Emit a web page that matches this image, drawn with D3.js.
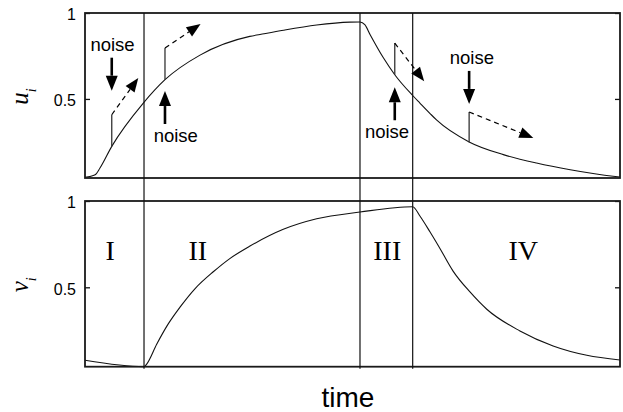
<!DOCTYPE html>
<html>
<head>
<meta charset="utf-8">
<script src="https://cdn.jsdelivr.net/npm/d3@7"></script>
<style>
  body { margin: 0; background: #fff; }
  svg { display: block; }
</style>
</head>
<body>
<svg></svg>
<script>
// time runs 0..100 (arbitrary units)
const uTime  = [0, 1.9, 2.8, 5.0, 10.9, 14.95, 21.5, 30.8, 32.7, 37.1, 43.3, 49.5, 51.4, 52.3, 53.3, 55.8, 57.9, 61.25, 62.6, 64.5, 65.7, 71.8, 78.2, 84.4, 90.7, 98.7, 100];
const uValue = [0.044, 0.059, 0.098, 0.224, 0.476, 0.612, 0.755, 0.864, 0.875, 0.900, 0.930, 0.947, 0.948, 0.932, 0.874, 0.738, 0.641, 0.520, 0.476, 0.415, 0.378, 0.250, 0.176, 0.127, 0.088, 0.050, 0.046];

const vTime  = [0, 11.03, 11.5, 13.4, 15.5, 17.76, 20.5, 23.98, 27.0, 30.84, 37.07, 43.3, 51.4, 61.25, 62.6, 64.5, 66.4, 68.8, 71.96, 75.1, 81.3, 87.5, 93.8, 100];
const vValue = [0.077, 0.040, 0.054, 0.170, 0.285, 0.385, 0.490, 0.590, 0.665, 0.739, 0.836, 0.897, 0.936, 0.967, 0.913, 0.820, 0.722, 0.594, 0.473, 0.373, 0.247, 0.160, 0.106, 0.079];

// region boundaries and labels
const boundaries = [11.03, 51.4, 61.25];
const regionNames = ["I", "II", "III", "IV"];
const regionLabelT = [4.7, 21.1, 56.5, 81.9];
const regionLabelV = 0.66;

// noise kicks on u_i
const noiseT      = [5.0, 14.95, 57.9, 71.8];
const noiseFrom   = [0.224, 0.612, 0.641, 0.248];
const noiseTo     = [0.408, 0.796, 0.825, 0.424];
const noiseEndT   = [9.96, 21.6, 63.4, 83.8];
const noiseEndU   = [0.622, 0.936, 0.603, 0.273];
const noiseTipU   = [0.548, 0.546, 0.568, 0.471];
const noiseSide   = ["above", "below", "below", "above"];
const noiseLabelT = [5.14, 16.97, 56.45, 72.3];

const yTicks = [0.5, 1];

const width = 623, height = 412;
const left = 85, right = 620;
const top1 = 13, bottom1 = 178;
const top2 = 201, bottom2 = 366.7;
const ink = "#111";

const svg = d3.select("svg")
  .attr("width", width)
  .attr("height", height)
  .attr("viewBox", [0, 0, width, height]);

const x = d3.scaleLinear().domain([0, 100]).range([left, right]);
const yU = d3.scaleLinear().domain([0.04, 1]).range([bottom1, top1]);
const yV = d3.scaleLinear().domain([0.04, 1]).range([bottom2, top2]);

function panel(y, top, bottom, times, values, name) {
  const g = svg.append("g");
  g.append("g")
    .attr("transform", `translate(${left},0)`)
    .call(d3.axisLeft(y).tickValues(yTicks).tickSize(-5).tickPadding(9).tickFormat(d3.format("")))
    .call(a => a.select(".domain").remove())
    .call(a => a.selectAll(".tick line").attr("stroke", ink).attr("stroke-width", 1.3))
    .call(a => a.selectAll(".tick text")
      .attr("fill", "#000")
      .attr("dy", "0.42em")
      .style("font-family", "'Liberation Sans', Arial, sans-serif")
      .style("font-size", "16px"));
  g.append("g")
    .attr("transform", `translate(${right},0)`)
    .call(d3.axisRight(y).tickValues(yTicks).tickSize(-5).tickFormat(""))
    .call(a => a.select(".domain").remove())
    .call(a => a.selectAll(".tick line").attr("stroke", ink).attr("stroke-width", 1.3));

  const line = d3.line()
    .x((d, i) => x(times[i]))
    .y(d => y(d))
    .curve(d3.curveMonotoneX);
  g.append("path")
    .attr("d", line(values))
    .attr("fill", "none")
    .attr("stroke", ink)
    .attr("stroke-width", 1.1);

  g.append("rect")
    .attr("x", left).attr("y", top)
    .attr("width", right - left).attr("height", bottom - top)
    .attr("fill", "none")
    .attr("stroke", "#1a1a1a")
    .attr("stroke-width", 1.8);

  // rotated y label with subscript
  const lab = g.append("text")
    .attr("transform", `translate(28,${(top + bottom) / 2 + 1}) rotate(-90)`)
    .attr("text-anchor", "middle")
    .style("font-family", "'Liberation Serif', 'Times New Roman', serif")
    .style("font-style", "italic")
    .attr("fill", "#000");
  lab.append("tspan").style("font-size", "25px").text(name);
  lab.append("tspan").style("font-size", "14px").attr("dy", 8).text("i");
}

panel(yU, top1, bottom1, uTime, uValue, "u");
panel(yV, top2, bottom2, vTime, vValue, "v");

// region boundaries across both panels
svg.append("g")
  .selectAll("line")
  .data(boundaries)
  .join("line")
  .attr("x1", d => x(d)).attr("x2", d => x(d))
  .attr("y1", top1).attr("y2", bottom2 + 2)
  .attr("stroke", ink)
  .attr("stroke-width", 1.2);

svg.append("g")
  .selectAll("text")
  .data(regionNames)
  .join("text")
  .attr("x", (d, i) => x(regionLabelT[i]))
  .attr("y", yV(regionLabelV))
  .attr("text-anchor", "middle")
  .style("font-family", "'Liberation Serif', 'Times New Roman', serif")
  .style("font-size", "28px")
  .attr("fill", "#000")
  .text(d => d);

// arrow helper
function arrow(g, x1, y1, x2, y2, opt) {
  const headLen = opt.headLen || 14, headW = opt.headW || 12;
  const dx = x2 - x1, dy = y2 - y1, len = Math.hypot(dx, dy);
  const ux = dx / len, uy = dy / len;
  const bx = x2 - ux * headLen, by = y2 - uy * headLen;
  g.append("line")
    .attr("x1", x1).attr("y1", y1).attr("x2", bx).attr("y2", by)
    .attr("stroke", "#000")
    .attr("stroke-width", opt.width)
    .attr("stroke-dasharray", opt.dash || null);
  g.append("path")
    .attr("d", `M${x2},${y2}L${bx - uy * headW / 2},${by + ux * headW / 2}L${bx + uy * headW / 2},${by - ux * headW / 2}Z`)
    .attr("fill", "#000");
}

const ng = svg.append("g");
noiseT.forEach((t, i) => {
  const jx = x(t);
  // jump
  ng.append("line")
    .attr("x1", jx).attr("x2", jx)
    .attr("y1", yU(noiseFrom[i])).attr("y2", yU(noiseTo[i]))
    .attr("stroke", "#333")
    .attr("stroke-width", 1.3);
  // dashed continuation
  arrow(ng, jx, yU(noiseTo[i]), x(noiseEndT[i]), yU(noiseEndU[i]),
    { width: 1.2, dash: "5,4", headLen: 14, headW: 11 });
  // pointer arrow
  const tipY = yU(noiseTipU[i]);
  const tailY = noiseSide[i] === "above" ? tipY - 33 : tipY + 33;
  arrow(ng, jx, tailY, jx, tipY, { width: 2.6, headLen: 15, headW: 12 });
  ng.append("text")
    .attr("x", x(noiseLabelT[i]))
    .attr("y", noiseSide[i] === "above" ? tailY - 7 : tailY + 18)
    .attr("text-anchor", "middle")
    .style("font-family", "'Liberation Sans', Arial, sans-serif")
    .style("font-size", "18.5px")
    .attr("fill", "#000")
    .text("noise");
});

svg.append("text")
  .attr("x", 348)
  .attr("y", 407)
  .attr("text-anchor", "middle")
  .style("font-family", "'Liberation Sans', Arial, sans-serif")
  .style("font-size", "28px")
  .attr("fill", "#000")
  .text("time");
</script>
</body>
</html>
